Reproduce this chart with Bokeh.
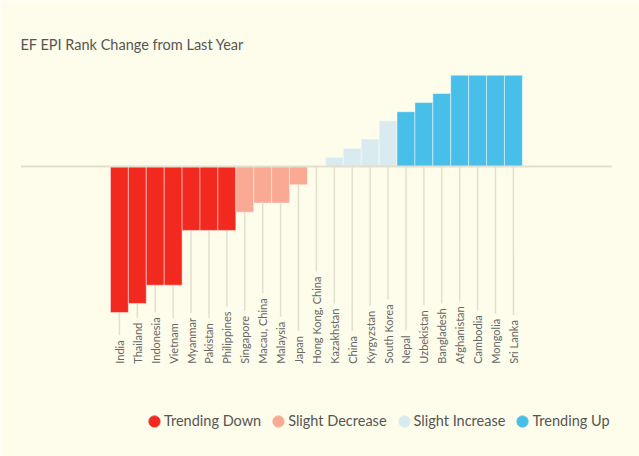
from math import pi
from bokeh.plotting import figure
from bokeh.models import Range1d, Label, Legend, LegendItem, ColumnDataSource
from bokeh.core.properties import value
from bokeh.embed import file_html
from bokeh.resources import INLINE

# ---- data ----
countries = ["India", "Thailand", "Indonesia", "Vietnam", "Myanmar", "Pakistan",
             "Philippines", "Singapore", "Macau, China", "Malaysia", "Japan",
             "Hong Kong, China", "Kazakhstan", "China", "Kyrgyzstan", "South Korea",
             "Nepal", "Uzbekistan", "Bangladesh", "Afghanistan", "Cambodia",
             "Mongolia", "Sri Lanka"]
rank_change = [-16, -15, -13, -13, -7, -7, -7, -5, -4, -4, -2, 0,
               1, 2, 3, 5, 6, 7, 8, 10, 10, 10, 10]
trend = (["Trending Down"] * 7 + ["Slight Decrease"] * 4 + ["Slight Increase"] * 5
         + ["Trending Up"] * 7)
trend_names = ["Trending Down", "Slight Decrease", "Slight Increase", "Trending Up"]
trend_colors = ["#f2291f", "#f9a994", "#d9ebee", "#47bfe8"]

# ---- styles ----
BG = "#fefdeb"
FONT = "Lato"
LINE = "#e2dfcd"
LABEL_Y = -21.6

color_of = dict(zip(trend_names, trend_colors))
n = len(countries)
idx = list(range(n))
src = ColumnDataSource(dict(
    x=idx, v=rank_change, name=countries, trend=trend,
    color=[color_of[t] for t in trend],
    zero=[0] * n, ly=[LABEL_Y] * n,
))

p = figure(width=639, height=456, output_backend="svg", toolbar_location=None,
           x_range=Range1d(-6.64, 29.04), y_range=Range1d(-31.76, 18.18),
           x_axis_location=None, y_axis_location=None,
           min_border=0, background_fill_color=BG, border_fill_color=BG,
           outline_line_color=None)
p.grid.visible = False

# tick lines from baseline to labels
p.segment(x0="x", y0="zero", x1="x", y1="ly", source=src,
          line_color=LINE, line_width=1.5)

# bars
p.vbar(x="x", bottom="zero", top="v", width=1, source=src,
       fill_color="color", line_color="white", line_alpha=0.45, line_width=1)

# baseline
p.segment(x0=[-0.5 - 5], y0=[0], x1=[n - 0.5 + 5], y1=[0],
          line_color=LINE, line_width=2)

# country labels (rotated) with background to cut tick lines
p.text(x="x", y="ly", text="name", source=src, angle=pi / 2,
       text_align="left", text_baseline="middle",
       text_font=value(FONT), text_font_size="11px", text_color="#666666",
       background_fill_color=BG,
       padding=dict(left=0, right=5, top=0, bottom=0))

# title
p.add_layout(Label(x=20, y=412, x_units="screen", y_units="screen",
                   text="EF EPI Rank Change from Last Year",
                   text_font=FONT, text_font_size="14.5px", text_color="#555555",
                   text_baseline="middle"))

# legend (circle swatches from renderers with no visible point)
items = []
for name, col in zip(trend_names, trend_colors):
    r = p.ellipse(x=[0], y=[float("nan")], width=11, height=11,
                  width_units="screen", height_units="screen",
                  fill_color=col, line_color=col)
    items.append(LegendItem(label=name, renderers=[r]))
legend = Legend(items=items, orientation="horizontal", location=(147, 27),
                glyph_width=14, glyph_height=14, label_standoff=3, spacing=10,
                padding=0, margin=0, border_line_color=None,
                background_fill_alpha=0,
                label_text_font=FONT, label_text_font_size="14.5px",
                label_text_color="#555555")
p.add_layout(legend)

open("out.html", "w").write(file_html(p, INLINE))
